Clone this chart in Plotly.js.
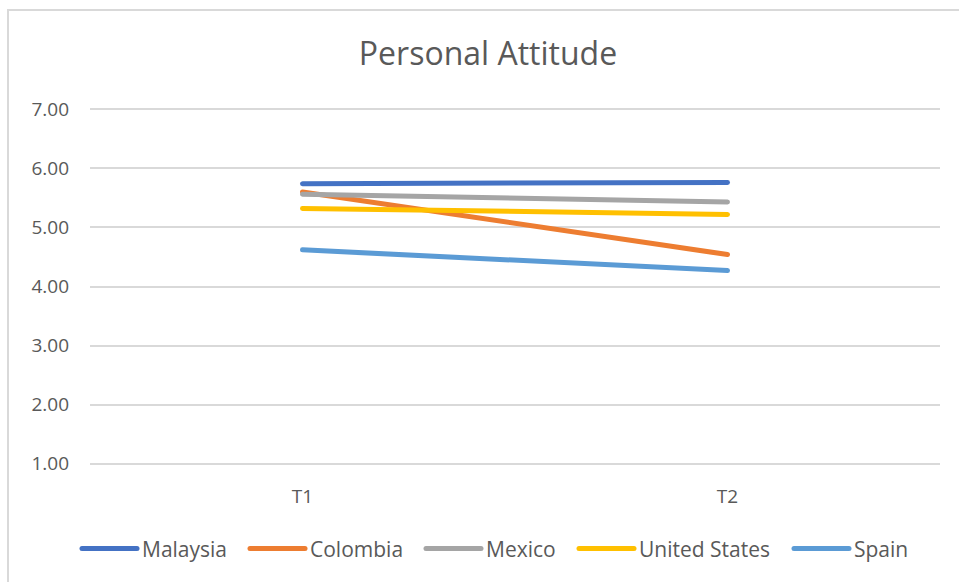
<!DOCTYPE html>
<html>
<head>
<meta charset="utf-8">
<script src="https://cdn.plot.ly/plotly-3.0.1.min.js"></script>
<style>
  html, body { margin: 0; padding: 0; background: #ffffff; }
  #wrap { position: relative; width: 959px; height: 582px; overflow: hidden; }
  #chart { width: 959px; height: 582px; }
  #frame { position: absolute; left: 7px; top: 9px; right: -10px; bottom: -10px;
           border-top: 2px solid #d9d9d9; border-left: 2px solid #d9d9d9; pointer-events: none; }
  path.js-line { stroke-linecap: round; }
</style>
</head>
<body>
<div id="wrap">
  <div id="chart"></div>
  <div id="frame"></div>
</div>
<script>
// Survey waves and country means
const periods = ['T1', 'T2'];
const countries = ['Malaysia', 'Colombia', 'Mexico', 'United States', 'Spain'];
const malaysia = [5.74, 5.76];
const colombia = [5.60, 4.54];
const mexico = [5.56, 5.43];
const unitedStates = [5.32, 5.22];
const spain = [4.62, 4.27];
const seriesValues = [malaysia, colombia, mexico, unitedStates, spain];
const seriesColors = ['#4472C4', '#ED7D31', '#A5A5A5', '#FFC000', '#5B9BD5'];
const yTicks = [1, 2, 3, 4, 5, 6, 7];
const yTickLabels = ['1.00', '2.00', '3.00', '4.00', '5.00', '6.00', '7.00'];

const textColor = '#595959';
const fontFamily = '"Open Sans", "Noto Sans", sans-serif';

// plot area geometry (px)
const plotLeft = 90, plotWidth = 850;
// left edge of each legend entry's line sample (px)
const legendStarts = [80, 248, 424, 577, 792];
const legendInset = 3;

const legendIds = countries.map((_, i) => (i === 0 ? 'legend' : 'legend' + (i + 1)));

const traces = countries.map((name, i) => ({
  type: 'scatter',
  mode: 'lines',
  name: name,
  legend: legendIds[i],
  x: periods,
  y: seriesValues[i],
  line: { color: seriesColors[i], width: 5 },
  hoverinfo: 'x+y+name'
}));

const layout = {
  width: 959,
  height: 582,
  margin: { l: plotLeft, r: 959 - plotLeft - plotWidth, t: 108, b: 117 },
  paper_bgcolor: '#ffffff',
  plot_bgcolor: '#ffffff',
  font: { family: fontFamily, color: textColor, size: 19 },
  title: {
    text: 'Personal Attitude',
    font: { family: fontFamily, size: 32, color: textColor },
    x: 488 / 959, xref: 'container', xanchor: 'center',
    y: 55, yref: 'container', yanchor: 'middle'
  },
  xaxis: {
    type: 'category',
    range: [-0.5, 1.5],
    showgrid: false,
    zeroline: false,
    showline: false,
    ticks: '',
    ticklabelstandoff: 18,
    tickfont: { family: fontFamily, size: 19, color: textColor }
  },
  yaxis: {
    range: [0.98, 7.02],
    tickvals: yTicks,
    ticktext: yTickLabels,
    showgrid: true,
    gridcolor: '#d9d9d9',
    gridwidth: 2,
    zeroline: false,
    showline: false,
    ticks: '',
    ticklabelstandoff: 20,
    tickfont: { family: fontFamily, size: 19, color: textColor }
  },
  showlegend: true
};

legendIds.forEach((id, i) => {
  layout[id] = {
    orientation: 'h',
    x: (legendStarts[i] - legendInset - plotLeft) / plotWidth,
    xanchor: 'left',
    y: -0.235, yanchor: 'middle',
    font: { family: fontFamily, size: 21, color: textColor },
    itemwidth: 55,
    bgcolor: 'rgba(0,0,0,0)'
  };
});

Plotly.newPlot('chart', traces, layout, { displayModeBar: false, staticPlot: true });
</script>
</body>
</html>
